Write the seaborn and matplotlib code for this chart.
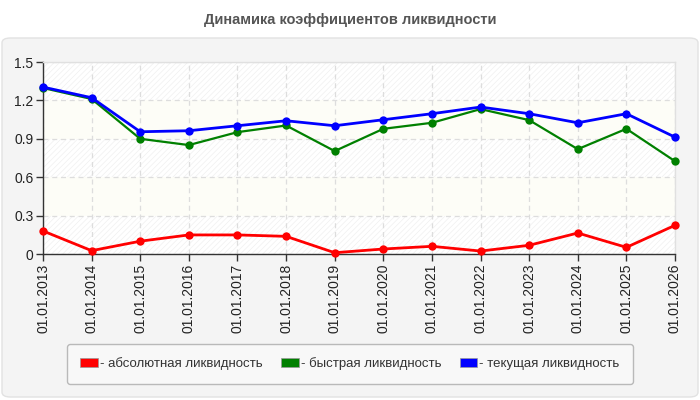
import matplotlib
matplotlib.use("Agg")
import matplotlib.pyplot as plt
import matplotlib.patches as mpatches
import seaborn as sns
import pandas as pd
import numpy as np

dates = ["01.01.2013", "01.01.2014", "01.01.2015", "01.01.2016", "01.01.2017",
         "01.01.2018", "01.01.2019", "01.01.2020", "01.01.2021", "01.01.2022",
         "01.01.2023", "01.01.2024", "01.01.2025", "01.01.2026"]
absolute = [0.18, 0.026, 0.10, 0.149, 0.149, 0.138, 0.01, 0.039, 0.06, 0.023, 0.068, 0.164, 0.052, 0.224]
quick = [1.297, 1.211, 0.90, 0.851, 0.952, 1.004, 0.804, 0.978, 1.025, 1.132, 1.046, 0.819, 0.978, 0.725]
current = [1.304, 1.221, 0.955, 0.963, 1.002, 1.041, 1.002, 1.049, 1.096, 1.148, 1.096, 1.025, 1.096, 0.913]
series_names = ["абсолютная ликвидность", "быстрая ликвидность", "текущая ликвидность"]
colors = ["#ff0000", "#008000", "#0000ff"]
y_ticks = [0, 0.3, 0.6, 0.9, 1.2, 1.5]
y_tick_labels = ["0", "0.3", "0.6", "0.9", "1.2", "1.5"]
title = "Динамика коэффициентов ликвидности"

sns.set_theme(style="white")
plt.rcParams['font.family'] = ['Liberation Sans', 'DejaVu Sans']
plt.rcParams['hatch.linewidth'] = 0.5

rows = []
for name, vals in zip(series_names, [absolute, quick, current]):
    for i, (d, v) in enumerate(zip(dates, vals)):
        rows.append({"idx": i, "date": d, "value": v, "series": name})
df = pd.DataFrame(rows)

fig = plt.figure(figsize=(7, 4), dpi=100)
fig.patch.set_facecolor("white")

# panel
panel = mpatches.FancyBboxPatch((2/700, 3/400), 696/700, 359/400,
                                boxstyle="round,pad=0,rounding_size=0.012",
                                transform=fig.transFigure, facecolor="#f4f4f4",
                                edgecolor="#e2e2e2", linewidth=1, zorder=-10)
fig.patches.append(panel)

ax = fig.add_axes([43/700, 1-254/400, 632/700, 192/400])
ax.set_zorder(1)
ax.set_facecolor("white")

# alternating background bands
for k in range(len(y_ticks) - 1):
    lo, hi = y_ticks[k], y_ticks[k + 1]
    if k % 2 == 0:
        ax.axhspan(lo, hi, facecolor="white", edgecolor="#f0f0f0", hatch="//////", linewidth=0, zorder=0)
    else:
        ax.axhspan(lo, hi, facecolor="#fdfdf7", linewidth=0, zorder=0)

lws = {series_names[0]: 2.0, series_names[1]: 1.6, series_names[2]: 2.0}
for name, c in zip(series_names, colors):
    sub = df[df["series"] == name]
    sns.lineplot(data=sub, x="idx", y="value", color=c, marker="o", markersize=6,
                 markeredgewidth=0, linewidth=lws[name], ax=ax, legend=False, zorder=3,
                 clip_on=False)

ax.set_xlim(0, len(dates) - 1)
ax.set_ylim(0, 1.5)
ax.set_xticks(range(len(dates)))
ax.set_xticklabels(dates, rotation=90, fontsize=10, color="#222222")
ax.set_yticks(y_ticks)
ax.set_yticklabels(y_tick_labels, fontsize=10, color="#222222")
ax.set_xlabel("")
ax.set_ylabel("")
ax.grid(True, color="#dddddd", linestyle=(0, (4, 3)), linewidth=0.9, zorder=1)
ax.set_axisbelow(True)
for s in ["top", "right"]:
    ax.spines[s].set_color("#e0e0e0")
    ax.spines[s].set_linewidth(1)
for s in ["left", "bottom"]:
    ax.spines[s].set_color("#333333")
    ax.spines[s].set_linewidth(1)
ax.tick_params(axis="both", which="both", direction="out", length=5, width=1,
               color="#333333", left=True, bottom=True, pad=2)

fig.text(0.5, 1 - 20/400, title, ha="center", va="center", fontsize=10.5,
         fontweight="bold", color="#555555")

handles = [mpatches.Patch(facecolor=c, edgecolor="#999999", linewidth=0.5, label="- " + n)
           for c, n in zip(colors, series_names)]
leg = fig.legend(handles=handles, loc="center", bbox_to_anchor=(350/700, 1 - 364/400),
                 ncol=3, frameon=True, fancybox=True, fontsize=9.5,
                 handlelength=1.3, handleheight=0.7, handletextpad=0.15,
                 columnspacing=1.45, borderpad=1.0, labelcolor="#333333")
leg.get_frame().set_facecolor("#fafafa")
leg.get_frame().set_edgecolor("#aaaaaa")
leg.get_frame().set_linewidth(1)

fig.savefig("out.png", dpi=100, facecolor=fig.get_facecolor())
